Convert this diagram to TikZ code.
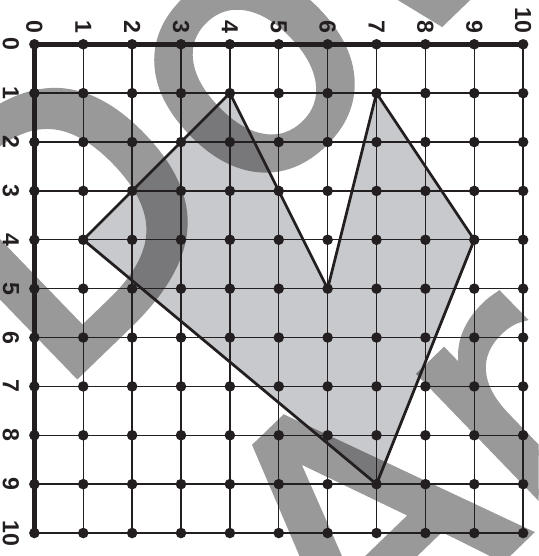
\documentclass[tikz,border=0pt]{standalone}
\usepackage{fontspec}
\setmainfont{Liberation Sans}
\newfontfamily\wmfont[FakeBold=2.3]{DejaVu Sans}
\definecolor{ink}{RGB}{35,31,32}
\definecolor{shade}{RGB}{200,201,204}
\definecolor{wmgray}{RGB}{153,153,153}
\begin{document}
\begin{tikzpicture}[x=1cm,y=1cm,
  gridline/.style={line width=0.8pt, draw=ink},
  axisline/.style={line width=3pt, draw=ink, line cap=rect},
  shapeline/.style={line width=1.6pt, draw=ink, line join=round},
  shapefill/.style={fill=shade},
  gridpt/.style={fill=ink},
  toplabel/.style={font=\fontsize{13.5}{14}\selectfont\bfseries, text=ink, rotate=-90, anchor=east, inner sep=0pt},
  leftlabel/.style={font=\fontsize{13.5}{14}\selectfont\bfseries, text=ink, rotate=-90, anchor=center, inner sep=0pt},
  wmark/.style={font=\wmfont\fontsize{200.7}{202}\selectfont, color=wmgray, text=wmgray, inner sep=0pt, anchor=base west, rotate=44}
]
\useasboundingbox (-0.7035,-10.47) rectangle (10.319,0.906);
\clip (-0.7035,-10.47) rectangle (10.319,0.906);
\foreach \c in {0,...,10} {
  \foreach \r in {0,...,10} {
    \coordinate (p-\c-\r) at (\c,-\r);
  }
}
% watermark (underneath)
\node[wmark] (wm1) at (0.376,-7.229) {\pgfsetstrokecolor{wmgray}Dow};
\node[wmark] (wm2) at (6.665,-13.321) {\pgfsetstrokecolor{wmgray}Ar};
% shaded polygon, multiplied over the watermark
\begin{scope}[blend mode=multiply]
\fill[shapefill] (p-4-1) -- (p-6-5) -- (p-7-1) -- (p-9-4) -- (p-7-9) -- (p-1-4) -- cycle;
\end{scope}
% grid
\foreach \i in {0,...,10} {
  \draw[gridline] (p-\i-0) -- (p-\i-10);
  \draw[gridline] (p-0-\i) -- (p-10-\i);
}
% axes
\draw[axisline] (p-0-10) -- (p-0-0) -- (p-10-0);
% polygon outline
\draw[shapeline] (p-4-1) -- (p-6-5) -- (p-7-1) -- (p-9-4) -- (p-7-9) -- (p-1-4) -- cycle;
% dots
\foreach \c in {0,...,10} {
  \foreach \r in {0,...,10} {
    \fill[gridpt] (p-\c-\r) circle (0.108);
  }
}
% labels
\foreach \i in {0,...,10} {
  \node[toplabel] (t\i) at (\i,0.22) {\i};
  \node[leftlabel] (l\i) at (-0.48,-\i) {\i};
}
\end{tikzpicture}
\end{document}
